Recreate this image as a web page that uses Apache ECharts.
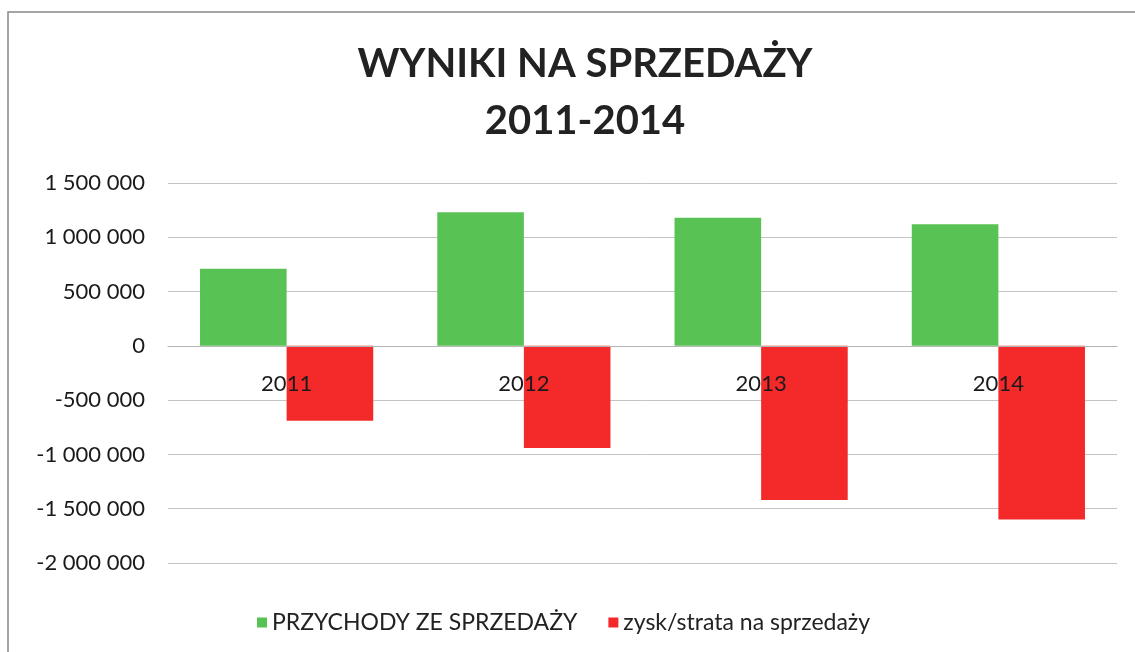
<!DOCTYPE html>
<html>
<head>
<meta charset="utf-8">
<script src="https://cdn.jsdelivr.net/npm/echarts@6/dist/echarts.min.js"></script>
<style>
html, body { margin: 0; padding: 0; background: #fff; }
#chart { width: 1135px; height: 652px; }
</style>
</head>
<body>
<div id="chart"></div>
<script>
// dane
var years = ['2011', '2012', '2013', '2014'];
var przychody = [710000, 1230000, 1180000, 1120000];
var zyskStrata = [-690000, -940000, -1420000, -1600000];
var seriesNames = ['PRZYCHODY ZE SPRZEDAŻY', 'zysk/strata na sprzedaży'];

var byId = function(id) {
	return document.getElementById(id);
};

// 1 500 000 - separator tysiecy spacja
function fmt(v) {
	var s = String(Math.abs(v)).replace(/\B(?=(\d{3})+(?!\d))/g, ' ');
	return (v < 0 ? '-' : '') + s;
}

var font = 'Lato, "Open Sans", sans-serif';
var gridTop = 183, gridBottom = 89, H = 652;
var yMin = -2000000, yMax = 1500000;
// os X rysowana na wysokosci zera (jak w Excelu)
var zeroOffset = -(H - gridBottom - gridTop) * (0 - yMin) / (yMax - yMin);

var option = {
	backgroundColor: '#fff',
	animation: false,
	title: {
		text: 'WYNIKI NA SPRZEDAŻY\n2011-2014',
		left: 580,
		textAlign: 'center',
		top: 31,
		textStyle: {
			fontFamily: font,
			fontWeight: 'bold',
			fontSize: 40,
			lineHeight: 57,
			color: '#222'
		}
	},
	graphic: [{
		type: 'rect',
		shape: { x: 8, y: 12, width: 1140, height: 660 },
		style: { fill: 'none', stroke: '#888', lineWidth: 1.5 },
		silent: true
	}],
	legend: {
		data: seriesNames,
		left: 252,
		top: 606,
		itemWidth: 10,
		itemHeight: 10,
		itemGap: 31,
		icon: 'rect',
		textStyle: {
			fontFamily: font,
			fontSize: 23,
			color: '#222'
		}
	},
	grid: {
		left: 168,
		right: 18,
		top: gridTop,
		bottom: gridBottom
	},
	xAxis: [{
		type: 'category',
		data: years,
		z: 10,
		offset: zeroOffset,
		axisLine: { onZero: false, lineStyle: { color: '#b5b5b5' } },
		axisTick: { show: false },
		axisLabel: {
			margin: 27,
			fontFamily: font,
			fontSize: 22,
			color: '#1a1a1a'
		}
	}],
	yAxis: [{
		type: 'value',
		min: yMin,
		max: yMax,
		interval: 500000,
		splitLine: { lineStyle: { color: '#c4c4c4' } },
		axisLabel: {
			margin: 23,
			fontFamily: font,
			fontSize: 22,
			color: '#1a1a1a',
			formatter: fmt
		}
	}],
	series: [{
		name: seriesNames[0],
		type: 'bar',
		data: przychody,
		barGap: '0%',
		barCategoryGap: '27%',
		itemStyle: { color: '#58c255' }
	}, {
		name: seriesNames[1],
		type: 'bar',
		data: zyskStrata,
		itemStyle: { color: '#f42a2a' }
	}]
};

var chart = echarts.init(byId('chart'));
chart.setOption(option);
</script>
</body>
</html>
